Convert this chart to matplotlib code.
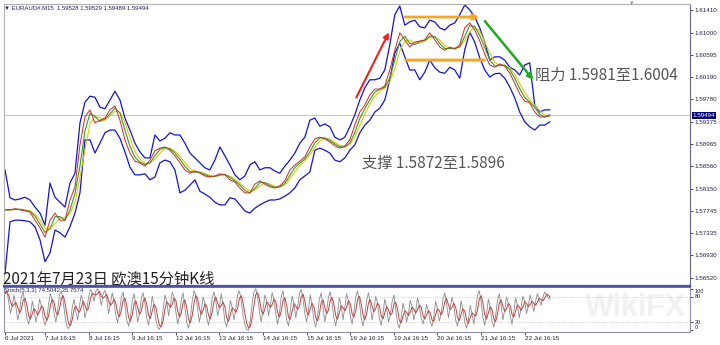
import matplotlib
matplotlib.use("Agg")
import matplotlib.pyplot as plt
import numpy as np
import pandas as pd

plt.rcParams['font.family'] = ['Liberation Sans', 'DejaVu Sans']
CJK = ['Noto Sans CJK SC', 'DejaVu Sans']

# EURAUD M15, 6 Jul - 22 Jul 2021, one value every 11 bars
price = [1.5776, 1.5776, 1.5778, 1.5776, 1.5774, 1.5772, 1.5757, 1.5743, 1.5726, 1.5757,
         1.5770, 1.5757, 1.5757, 1.5794, 1.5818, 1.5895, 1.5946, 1.5959, 1.5935, 1.5940,
         1.5944, 1.5959, 1.5966, 1.5940, 1.5904, 1.5880, 1.5865, 1.5862, 1.5856, 1.5867,
         1.5884, 1.5889, 1.5891, 1.5885, 1.5875, 1.5862, 1.5849, 1.5843, 1.5847, 1.5843,
         1.5838, 1.5836, 1.5838, 1.5842, 1.5840, 1.5831, 1.5827, 1.5816, 1.5807, 1.5807,
         1.5823, 1.5829, 1.5823, 1.5818, 1.5816, 1.5820, 1.5829, 1.5849, 1.5858, 1.5865,
         1.5873, 1.5891, 1.5906, 1.5909, 1.5906, 1.5900, 1.5893, 1.5889, 1.5893, 1.5904,
         1.5931, 1.5955, 1.5968, 1.5986, 1.5997, 1.5997, 1.6003, 1.6032, 1.6068, 1.6100,
         1.6087, 1.6074, 1.6083, 1.6085, 1.6087, 1.6100, 1.6087, 1.6074, 1.6068, 1.6074,
         1.6070, 1.6078, 1.6109, 1.6118, 1.6105, 1.6085, 1.6061, 1.6041, 1.6037, 1.6043,
         1.6039, 1.6026, 1.6008, 1.5988, 1.5975, 1.5972, 1.5955, 1.5946, 1.5946, 1.5950]

upper = [1.5849, 1.5798, 1.5794, 1.5796, 1.5799, 1.5794, 1.5781, 1.5770, 1.5748, 1.5825,
         1.5799, 1.5790, 1.5781, 1.5825, 1.5843, 1.5935, 1.5973, 1.5984, 1.5982, 1.5964,
         1.5961, 1.5977, 1.5993, 1.5977, 1.5944, 1.5922, 1.5898, 1.5882, 1.5871, 1.5871,
         1.5913, 1.5902, 1.5907, 1.5917, 1.5913, 1.5913, 1.5898, 1.5880, 1.5871, 1.5862,
         1.5853, 1.5849, 1.5867, 1.5891, 1.5875, 1.5858, 1.5840, 1.5831, 1.5838, 1.5858,
         1.5864, 1.5849, 1.5853, 1.5853, 1.5847, 1.5843, 1.5856, 1.5867, 1.5880, 1.5898,
         1.5909, 1.5940, 1.5944, 1.5929, 1.5933, 1.5928, 1.5909, 1.5904, 1.5909, 1.5928,
         1.5950, 1.5977, 1.5999, 1.6014, 1.6014, 1.6017, 1.6032, 1.6078, 1.6133, 1.6149,
         1.6114, 1.6120, 1.6123, 1.6111, 1.6109, 1.6123, 1.6120, 1.6109, 1.6105, 1.6114,
         1.6118, 1.6133, 1.6151, 1.6142, 1.6129, 1.6109, 1.6083, 1.6050, 1.6056, 1.6056,
         1.6050, 1.6037, 1.6032, 1.6023, 1.6041, 1.6045, 1.5968, 1.5955, 1.5959, 1.5959]

lower = [1.5660, 1.5754, 1.5757, 1.5757, 1.5756, 1.5754, 1.5745, 1.5721, 1.5681, 1.5697,
         1.5739, 1.5734, 1.5726, 1.5745, 1.5770, 1.5807, 1.5904, 1.5904, 1.5880, 1.5898,
         1.5917, 1.5922, 1.5922, 1.5907, 1.5882, 1.5854, 1.5840, 1.5840, 1.5842, 1.5831,
         1.5836, 1.5862, 1.5867, 1.5864, 1.5849, 1.5807, 1.5812, 1.5821, 1.5831, 1.5810,
         1.5805, 1.5799, 1.5790, 1.5785, 1.5785, 1.5798, 1.5796, 1.5785, 1.5774, 1.5770,
         1.5779, 1.5785, 1.5790, 1.5794, 1.5794, 1.5796, 1.5801, 1.5807, 1.5816, 1.5831,
         1.5838, 1.5845, 1.5885, 1.5889, 1.5885, 1.5880, 1.5867, 1.5864, 1.5871, 1.5885,
         1.5895, 1.5917, 1.5931, 1.5940, 1.5955, 1.5962, 1.5977, 1.6014, 1.6063, 1.6081,
         1.6056, 1.6032, 1.6032, 1.6014, 1.6028, 1.6050, 1.6036, 1.6028, 1.6026, 1.6037,
         1.6032, 1.6017, 1.6069, 1.6101, 1.6083, 1.6054, 1.6032, 1.6019, 1.6025, 1.6026,
         1.6017, 1.6001, 1.5981, 1.5955, 1.5937, 1.5928, 1.5922, 1.5931, 1.5931, 1.5937]

# Stochastic(5,3,3) main line, one value every 4 bars
stoch_k = [88, 95, 70, 40, 62, 85, 55, 25, 45, 80,
           92, 60, 30, 15, 35, 70, 50, 20, 40, 75,
           60, 30, 12, 28, 65, 88, 72, 40, 20, 50,
           85, 95, 70, 35, 10, 4, 20, 55, 75, 45,
           25, 60, 85, 65, 30, 50, 80, 98, 90, 70,
           95, 100, 85, 60, 88, 96, 75, 40, 65, 90,
           70, 35, 18, 45, 80, 92, 60, 25, 10, 30,
           70, 88, 55, 20, 40, 78, 90, 65, 30, 12,
           45, 82, 60, 25, 8, 2, 15, 50, 85, 70,
           35, 60, 92, 80, 45, 15, 35, 75, 90, 55,
           20, 5, 30, 70, 95, 85, 50, 20, 45, 80,
           65, 30, 12, 40, 78, 92, 70, 35, 55, 88,
           60, 22, 8, 35, 72, 55, 25, 50, 85, 95,
           70, 35, 15, 2, 0, 25, 65, 92, 100, 80,
           45, 20, 50, 85, 70, 35, 60, 90, 75, 40,
           15, 40, 80, 95, 60, 25, 10, 45, 82, 65,
           30, 55, 88, 98, 75, 40, 20, 50, 85, 60,
           25, 8, 35, 75, 90, 55, 20, 45, 80, 92,
           65, 30, 10, 40, 78, 60, 25, 55, 88, 70,
           35, 15, 45, 80, 95, 70, 30, 10, 35, 72,
           90, 60, 25, 50, 82, 65, 30, 12, 40, 75,
           55, 20, 35, 68, 85, 50, 18, 5, 30, 65,
           45, 20, 40, 72, 55, 25, 45, 78, 60, 30,
           15, 35, 62, 45, 20, 10, 35, 70, 50, 22,
           40, 75, 90, 65, 30, 55, 80, 60, 25, 10,
           35, 70, 50, 20, 5, 25, 60, 40, 15, 45,
           85, 95, 70, 30, 12, 40, 75, 55, 20, 8,
           35, 72, 88, 60, 25, 50, 80, 65, 35, 15,
           45, 78, 60, 30, 55, 82, 70, 40, 60, 85,
           65, 45, 70, 88, 72, 60, 80, 92, 85, 78,
           74.5]

price_ticks = [1.61410, 1.61000, 1.60595, 1.60190, 1.59780, 1.59375, 1.58965,
               1.58560, 1.58150, 1.57745, 1.57335, 1.56930, 1.56520]
time_labels = ['6 Jul 2021', '7 Jul 16:15', '8 Jul 16:15', '9 Jul 16:15', '12 Jul 16:15',
               '13 Jul 16:15', '14 Jul 16:15', '15 Jul 16:15', '16 Jul 16:15',
               '19 Jul 16:15', '20 Jul 16:15', '21 Jul 16:15', '22 Jul 16:15']
last_price = 1.59494

# time axis in days from 7 Jul 16:15 (96 bars of 15 min per day)
first_bar = -88
t_price = (first_bar + 11 * np.arange(len(price))) / 96
t_stoch = (first_bar + 4 * np.arange(len(stoch_k))) / 96
time_ticks = [first_bar / 96] + list(range(12))

ma_fast = pd.Series(price).rolling(2, min_periods=1).mean()
ma_slow = pd.Series(price).rolling(3, min_periods=1).mean()
stoch_d = pd.Series(stoch_k).rolling(3, min_periods=1).mean()

fig = plt.figure(figsize=(7.2, 3.45), dpi=100)
ax = fig.add_axes([4/720, 1 - 286/345, 686/720, 282/345])
ax2 = fig.add_axes([4/720, 1 - 332/345, 686/720, 45/345])
xlim = (-0.940, 14.79)

ax.axhline(last_price, color='#c8c8c8', lw=0.8, zorder=0)
ax.plot(t_price, upper, color='#1414d2', lw=0.9)
ax.plot(t_price, lower, color='#1414d2', lw=0.9)
ax.plot(t_price, ma_slow, color='#e8c400', lw=0.8)
ax.plot(t_price, ma_fast, color='#2ca02c', lw=0.8)
ax.plot(t_price, price, color='#d02828', lw=0.7)
ax.set_xlim(*xlim)
ax.set_ylim(1.56366, 1.61527)
ax.set_xticks([])
ax.yaxis.tick_right()
ax.set_yticks(price_ticks)
ax.set_yticklabels(['%.5f' % v for v in price_ticks])
ax.tick_params(axis='y', length=2, width=0.6, pad=1.5, labelsize=4.5,
               colors='#333', labelcolor='#222244')
for s in ['top', 'left']:
    ax.spines[s].set_color('#b0b0b0')
    ax.spines[s].set_linewidth(0.8)
ax.spines['right'].set_color('#666688')
ax.spines['right'].set_linewidth(0.8)
ax.spines['bottom'].set_color('#5050a8')
ax.spines['bottom'].set_linewidth(1.6)

ax.annotate('%.5f' % last_price, xy=(1.004, last_price), xycoords=('axes fraction', 'data'),
            va='center', ha='left', fontsize=4.5, color='white',
            bbox=dict(boxstyle='square,pad=0.15', fc='#00007a', ec='none'))

# arrows drawn on the chart
ax.annotate('', xy=(7.913, 1.61051), xytext=(7.110, 1.5977),
            arrowprops=dict(arrowstyle='-|>', color='#f02020', lw=1.5, mutation_scale=8))
ax.annotate('', xy=(10.023, 1.61289), xytext=(8.188, 1.61289),
            arrowprops=dict(arrowstyle='-|>', color='#f5a623', lw=2, mutation_scale=8))
ax.annotate('', xy=(10.138, 1.6050), xytext=(8.211, 1.6050),
            arrowprops=dict(arrowstyle='-', color='#f5a623', lw=2.2))
ax.annotate('', xy=(11.239, 1.60099), xytext=(10.046, 1.61252),
            arrowprops=dict(arrowstyle='-|>', color='#22a822', lw=1.8, mutation_scale=8))

ax.text(11.24, 1.60227, '阻力 1.5981至1.6004', family=CJK, fontsize=11,
        color='#555555', va='center', ha='left')
ax.text(7.27, 1.58617, '支撑 1.5872至1.5896', family=CJK, fontsize=11,
        color='#555555', va='center', ha='left')
ax.text(0.0, 0.996, '▼ EURAUD#,M15  1.59528 1.59529 1.59489 1.59494', transform=ax.transAxes,
        fontsize=4.3, color='#202060', va='top', ha='left')
fig.text(632/720, 1 - 3/345, '▼', fontsize=4, color='#909090', ha='center', va='center')

# stochastic panel
ax2.axhline(80, color='#c0c0c0', lw=0.6, ls=':')
ax2.axhline(20, color='#c0c0c0', lw=0.6, ls=':')
ax2.plot(t_stoch, stoch_k, color='#8a8a8a', lw=0.6)
ax2.plot(t_stoch, stoch_d, color='#c04040', lw=0.7)
ax2.set_xlim(*xlim)
ax2.set_ylim(-4, 104)
ax2.yaxis.tick_right()
ax2.set_yticks([0, 20, 80, 100])
ax2.set_yticklabels(['0', '20', '80', '100'])
ax2.tick_params(axis='y', length=2, width=0.6, pad=1.5, labelsize=4,
                colors='#333', labelcolor='#222244')
for lab, va in zip(ax2.get_yticklabels(), ['bottom', 'center', 'center', 'top']):
    lab.set_va(va)
ax2.set_xticks(time_ticks)
ax2.set_xticklabels(time_labels)
ax2.tick_params(axis='x', length=2, width=0.6, pad=1.2, labelsize=4.5,
                colors='#333', labelcolor='#222244')
for lab in ax2.get_xticklabels():
    lab.set_ha('left')
for s in ['bottom', 'left', 'right']:
    ax2.spines[s].set_color('#9090a8')
    ax2.spines[s].set_linewidth(0.8)
ax2.spines['top'].set_color('#5050a8')
ax2.spines['top'].set_linewidth(1.2)
ax2.text(0.0, 0.97, 'Stoch(5,3,3) 74.5042 35.7574', transform=ax2.transAxes,
         fontsize=4.3, color='#202060', va='top', ha='left')

fig.text(3/720, 1 - 279/345, '2021年7月23日 欧澳15分钟K线', family=CJK, fontsize=11,
         color='#222222', va='center', ha='left')

# faint watermark
fig.text(636/720, 1 - 308/345, 'WikiFX', fontsize=22, fontweight='bold', color='#d8d8d8',
         alpha=0.35, ha='center', va='center')

fig.savefig('out.png', dpi=100)
